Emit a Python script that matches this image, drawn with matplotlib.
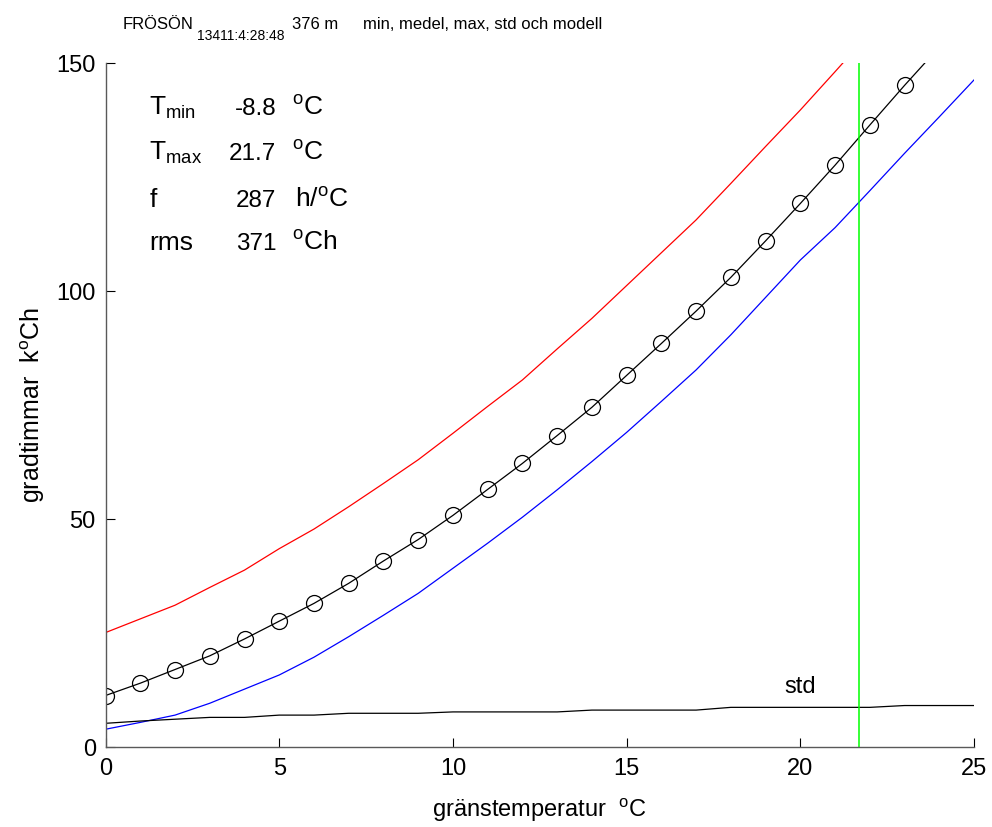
import matplotlib
matplotlib.use('Agg')
import matplotlib.pyplot as plt

plt.rcParams['font.family'] = ['Liberation Sans', 'DejaVu Sans']
plt.rcParams['mathtext.fontset'] = 'custom'
plt.rcParams['mathtext.rm'] = 'Liberation Sans'
plt.rcParams['mathtext.it'] = 'Liberation Sans:italic'

# gränstemperatur (x) och gradtimmar i k°Ch
temp = list(range(26))
medel_x = list(range(24))
medel = [11.3, 14.0, 17.0, 20.0, 23.7, 27.6, 31.5, 35.9, 40.8, 45.5, 50.8, 56.5,
         62.2, 68.3, 74.5, 81.5, 88.5, 95.6, 103.0, 111.0, 119.2, 127.6, 136.4, 145.1]
modell_x = list(range(25))
modell = medel + [153.5]
max_x = list(range(23))
maxv = [25.1, 28.1, 31.1, 35.0, 38.8, 43.5, 47.8, 52.7, 57.8, 63.0, 68.8, 74.7,
        80.5, 87.3, 94.0, 101.2, 108.4, 115.6, 123.6, 131.7, 139.7, 148.1, 156.6]
minv = [3.9, 5.4, 7.0, 9.6, 12.7, 15.8, 19.7, 24.2, 28.9, 33.7, 39.2, 44.7, 50.4,
        56.4, 62.6, 69.0, 75.8, 82.7, 90.4, 98.6, 106.8, 113.9, 122.0, 130.2, 138.2, 146.3]
stdv = [5.2, 5.7, 6.1, 6.5, 6.5, 7.0, 7.0, 7.4, 7.4, 7.4, 7.7, 7.7, 7.7, 7.7,
        8.1, 8.1, 8.1, 8.1, 8.7, 8.7, 8.7, 8.7, 8.7, 9.1, 9.1, 9.1]

tmin = -8.8
tmax = 21.7
f = 287
rms = 371

fig = plt.figure(figsize=(9.92, 8.27), dpi=100)
ax = fig.add_axes([0.1064, 0.0967, 0.8755, 0.8271])

ax.plot(max_x, maxv, color='#ff0000', lw=0.9)
ax.plot(temp, minv, color='#0000ff', lw=0.9)
ax.plot(temp, stdv, color='k', lw=0.9)
ax.plot(modell_x, modell, color='k', lw=0.9)
ax.plot(medel_x, medel, 'o', mfc='none', mec='k', ms=11.5, mew=0.9)
ax.axvline(tmax, color='#00ff00', lw=1.1)

ax.text(20, 11.8, 'std', fontsize=17, ha='center', va='baseline')

# textblock uppe till vänster
rows = [138.6, 128.7, 118.4, 109.0]
names = [r'T$_{\mathrm{min}}$', r'T$_{\mathrm{max}}$', 'f', 'rms']
values = [f'{tmin:.1f}', f'{tmax:.1f}', f'{f}', f'{rms}']
units = [r'$^{\mathrm{o}}$C', r'$^{\mathrm{o}}$C', r'h/$^{\mathrm{o}}$C', r'$^{\mathrm{o}}$Ch']
unit_x = [5.36, 5.36, 5.45, 5.36]
for i in range(4):
    ax.text(1.26, rows[i], names[i], fontsize=19, va='baseline')
    ax.text(4.91, rows[i], values[i], fontsize=17.5, va='baseline', ha='right')
    ax.text(unit_x[i], rows[i], units[i], fontsize=19, va='baseline')

ax.set_xlim(0, 25)
ax.set_ylim(0, 150)
ax.set_xticks([0, 5, 10, 15, 20, 25])
ax.set_yticks([0, 50, 100, 150])
ax.spines['top'].set_visible(False)
ax.spines['right'].set_visible(False)
for s in ['left', 'bottom']:
    ax.spines[s].set_color('0.35')
    ax.spines[s].set_linewidth(1.0)
ax.tick_params(direction='in', length=6.5, width=0.8, labelsize=17, pad=7)
ax.tick_params(axis='x', pad=8)
ax.set_xlabel(r'gränstemperatur  $^{\mathrm{o}}$C', fontsize=17, labelpad=12)
ax.set_ylabel(r'gradtimmar  k$^{\mathrm{o}}$Ch', fontsize=18, labelpad=7)

fig.text(0.124, 0.9655, 'FRÖSÖN', fontsize=12, va='baseline')
fig.text(0.1983, 0.9516, '13411:4:28:48', fontsize=10, va='baseline')
fig.text(0.2944, 0.9655, '376 m', fontsize=12, va='baseline')
fig.text(0.366, 0.9655, 'min, medel, max, std och modell', fontsize=12, va='baseline')

fig.savefig('out.png', dpi=100)
